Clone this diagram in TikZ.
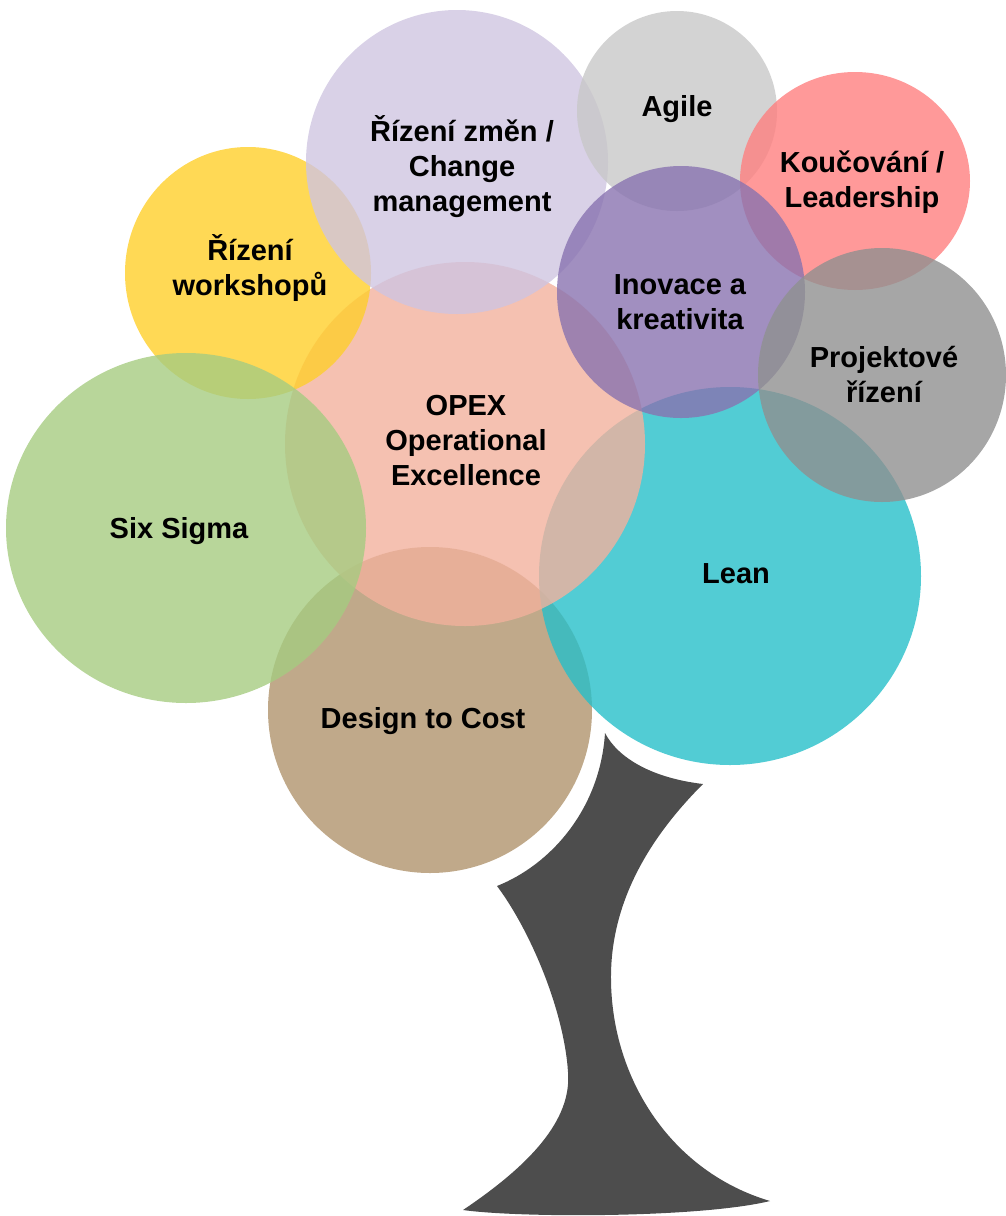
\documentclass[tikz,border=0pt]{standalone}
\usepackage{fontspec}
\setmainfont{Liberation Sans}
\begin{document}
\begin{tikzpicture}[x=1pt,y=-1pt,
  bubble/.style={fill opacity=0.8},
  lbl/.style={font=\bfseries\fontsize{29}{35}\selectfont, align=center, text=black, inner sep=0pt}]
\definecolor{cLav}{RGB}{207,197,225}
\definecolor{cAgile}{RGB}{200,200,200}
\definecolor{cKouc}{RGB}{255,127,127}
\definecolor{cInov}{RGB}{137,115,176}
\definecolor{cProj}{RGB}{144,144,144}
\definecolor{cYel}{RGB}{255,207,43}
\definecolor{cOpex}{RGB}{242,177,157}
\definecolor{cGreen}{RGB}{166,204,129}
\definecolor{cTan}{RGB}{176,148,109}
\definecolor{cLean}{RGB}{39,191,201}
\definecolor{cTrunk}{RGB}{77,77,77}
\useasboundingbox (0,0) rectangle (1006,1216);
% trunk
\fill[cTrunk] (605,733) .. controls (618,758) and (652,778) .. (703,784)
  .. controls (652,835) and (610,900) .. (611,980)
  .. controls (612,1080) and (672,1172) .. (770,1201)
  .. controls (700,1218) and (520,1218) .. (463,1210)
  .. controls (530,1165) and (572,1120) .. (568,1072)
  .. controls (564,1010) and (530,930) .. (497,886)
  .. controls (550,865) and (600,810) .. (605,733);
% bubbles
\fill[bubble,cTan] (430,710) ellipse [x radius=162, y radius=163];
\fill[bubble,cLean] (730,576) ellipse [x radius=191, y radius=189];
\fill[bubble,cOpex] (465,444) ellipse [x radius=180, y radius=182];
\fill[bubble,cYel] (248,273) ellipse [x radius=123, y radius=126];
\fill[bubble,cLav] (457,162) ellipse [x radius=151, y radius=152];
\fill[bubble,cAgile] (677,111) ellipse [x radius=100, y radius=100];
\fill[bubble,cGreen] (186,528) ellipse [x radius=180, y radius=175];
\fill[bubble,cKouc] (855,181) ellipse [x radius=115, y radius=109];
\fill[bubble,cInov] (681,292) ellipse [x radius=124, y radius=126];
\fill[bubble,cProj] (882,375) ellipse [x radius=124, y radius=127];
% labels
\node[lbl] (zmeny) at (462,167) {Řízení změn /\\Change\\management};
\node[lbl] (agile) at (677,109) {Agile};
\node[lbl] (kouc) at (862,182) {Koučování /\\Leadership};
\node[lbl] (works) at (250,268) {Řízení\\workshopů};
\node[lbl] (inov) at (680,302) {Inovace a\\kreativita};
\node[lbl] (proj) at (884,375) {Projektové\\řízení};
\node[lbl] (opex) at (466,441) {OPEX\\Operational\\Excellence};
\node[lbl] (six) at (179,531) {Six Sigma};
\node[lbl] (lean) at (736,574) {Lean};
\node[lbl] (dtc) at (423,721) {Design to Cost};
\end{tikzpicture}
\end{document}
